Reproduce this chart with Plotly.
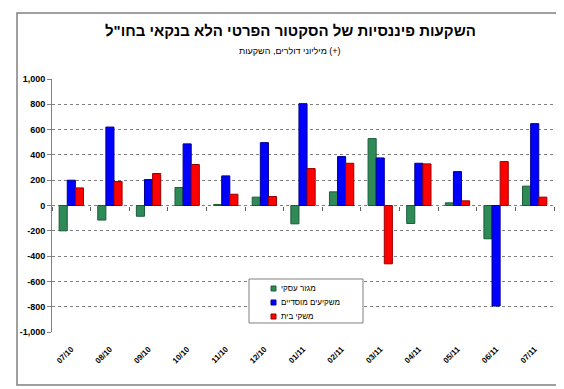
import plotly.graph_objects as go

months = ["07/10", "08/10", "09/10", "10/10", "11/10", "12/10", "01/11",
          "02/11", "03/11", "04/11", "05/11", "06/11", "07/11"]
business = [-200, -115, -85, 142, 8, 66, -145, 108, 529, -142, 21, -263, 153]
institutional = [200, 620, 205, 487, 234, 497, 805, 387, 376, 334, 268, -795, 647]
households = [139, 190, 253, 324, 89, 71, 292, 334, -461, 329, 37, 347, 66]

series_names = ["מגזר עסקי", "משקיעים מוסדיים", "משקי בית"]
series_colors = ["#2E8B57", "#0000FF", "#FF0000"]
series_edges = ["#1B5C38", "#00008B", "#990000"]
y_ticks = [1000, 800, 600, 400, 200, 0, -200, -400, -600, -800, -1000]
y_tick_text = ["1,000", "800", "600", "400", "200", "0", "-200", "-400", "-600", "-800", "-1,000"]

title = 'השקעות פיננסיות של הסקטור הפרטי הלא בנקאי בחו"ל'
subtitle = "מיליוני דולרים, השקעות (+)"

FONT = "Arial, Liberation Sans, DejaVu Sans, sans-serif"

fig = go.Figure()
for name, vals, col, edge in zip(series_names, [business, institutional, households],
                                 series_colors, series_edges):
    fig.add_trace(go.Bar(x=months, y=vals, name=name, showlegend=False,
                         marker=dict(color=col, line=dict(color=edge, width=1))))

# invisible helper trace so the category tick marks can be drawn along the zero line
fig.add_trace(go.Scatter(x=months, y=business, xaxis="x2", mode="markers",
                         marker=dict(opacity=0), hoverinfo="skip", showlegend=False))

# manual legend (compact, like the original)
shapes = [dict(type="rect", xref="paper", yref="paper",
               x0=-0.0697, x1=1.02, y0=-0.2095, y1=1.261,
               line=dict(color="#808080", width=1.5), fillcolor="rgba(0,0,0,0)",
               layer="below"),
          dict(type="rect", xref="paper", yref="paper",
               x0=0.3924, x1=0.6195, y0=0.0356, y1=0.2095,
               line=dict(color="#808080", width=1), fillcolor="white", layer="above")]
annotations = [
    dict(text=title, xref="paper", yref="paper", x=0.475, y=1.19,
         xanchor="center", yanchor="middle", showarrow=False,
         font=dict(size=15, family=FONT, weight="bold")),
    dict(text=subtitle, xref="paper", yref="paper", x=0.475, y=1.11,
         xanchor="center", yanchor="middle", showarrow=False,
         font=dict(size=9, family=FONT)),
]
leg_sq_y = [(0.1621, 0.1818), (0.1067, 0.1265), (0.0514, 0.0711)]
leg_txt_y = [0.1719, 0.1166, 0.0613]
for name, col, edge, (y0, y1), ty in zip(series_names, series_colors, series_edges,
                                         leg_sq_y, leg_txt_y):
    shapes.append(dict(type="rect", xref="paper", yref="paper",
                       x0=0.4363, x1=0.4462, y0=y0, y1=y1,
                       line=dict(color=edge, width=1), fillcolor=col, layer="above"))
    annotations.append(dict(text=name, xref="paper", yref="paper", x=0.452, y=ty,
                            xanchor="left", yanchor="middle", showarrow=False,
                            align="left", font=dict(size=8, family=FONT)))

fig.update_layout(
    width=564, height=389,
    margin=dict(l=44, r=18, t=71, b=65),
    paper_bgcolor="white", plot_bgcolor="white",
    font=dict(family=FONT, size=9, color="black"),
    barmode="group", bargap=0.37, bargroupgap=0,
    showlegend=False,
    xaxis=dict(type="category", range=[-0.5, 12.5], showgrid=False, showline=False,
               ticks="", tickangle=-45, ticklabelstandoff=10,
               tickfont=dict(size=8, family=FONT, weight="bold")),
    xaxis2=dict(type="category", overlaying="x", anchor="free", position=0.5,
                range=[-0.5, 12.5], showgrid=False, showline=False,
                ticks="outside", tickson="boundaries", ticklen=4, tickcolor="#606060",
                showticklabels=False),
    yaxis=dict(range=[-1000, 1000], tickvals=y_ticks, ticktext=y_tick_text,
               showgrid=True, gridcolor="#808080", griddash="dot", gridwidth=1,
               zeroline=False, showline=True, linecolor="#808080", linewidth=1,
               ticks="outside", ticklen=4, tickcolor="#808080",
               tickfont=dict(size=9, family=FONT, weight="bold")),
    shapes=shapes,
    annotations=annotations,
)

fig.write_html("out.html")
